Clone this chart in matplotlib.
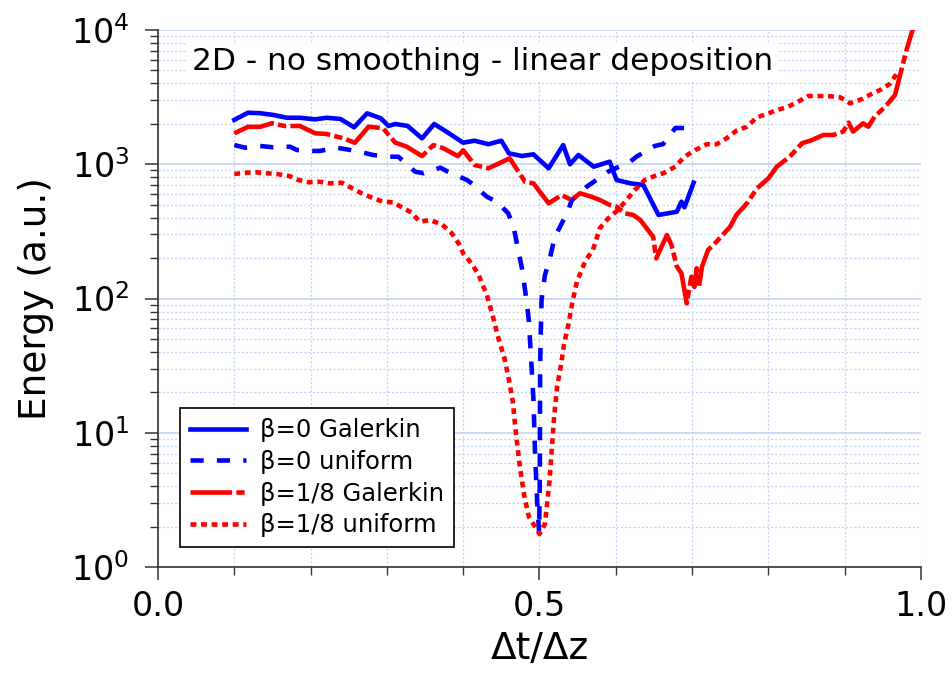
import numpy as np
import matplotlib
matplotlib.use("Agg")
import matplotlib.pyplot as plt
from matplotlib.ticker import LogLocator, MultipleLocator, NullFormatter

plt.rcParams['font.family'] = ['DejaVu Sans']
plt.rcParams['lines.scale_dashes'] = False

# beta = 0, Galerkin
x_b0_gal = [0.100, 0.118, 0.134, 0.151, 0.169, 0.186, 0.206, 0.221, 0.239, 0.257,
            0.274, 0.292, 0.302, 0.311, 0.327, 0.346, 0.362, 0.380, 0.400, 0.415,
            0.433, 0.450, 0.460, 0.477, 0.492, 0.512, 0.531, 0.540, 0.551, 0.571,
            0.592, 0.601, 0.619, 0.636, 0.656, 0.680, 0.686, 0.690, 0.702]
e_b0_gal = [2140, 2420, 2400, 2330, 2220, 2220, 2160, 2220, 2175, 1885,
            2395, 2200, 1930, 1995, 1930, 1560, 1995, 1720, 1447, 1497,
            1410, 1497, 1205, 1152, 1186, 933, 1390, 1000, 1172, 959,
            1045, 764, 721, 700, 419, 443, 526, 478, 729]

# beta = 0, uniform
x_b0_uni = [0.100, 0.114, 0.134, 0.151, 0.173, 0.182, 0.204, 0.212, 0.234, 0.252,
            0.269, 0.282, 0.304, 0.315, 0.337, 0.348, 0.370, 0.380, 0.405, 0.411,
            0.431, 0.444, 0.459, 0.466, 0.472, 0.477, 0.482, 0.486, 0.488, 0.490,
            0.492, 0.493, 0.494, 0.4955, 0.497, 0.4995, 0.5003, 0.5006, 0.5008, 0.5012,
            0.5027, 0.507, 0.514, 0.520, 0.527, 0.538, 0.542, 0.562, 0.565, 0.584,
            0.590, 0.619, 0.627, 0.651, 0.662, 0.678, 0.690]
e_b0_uni = [1391, 1328, 1368, 1337, 1352, 1277, 1256, 1256, 1328, 1277,
            1220, 1172, 1138, 1138, 880, 857, 943, 880, 763, 721,
            573, 526, 431, 343, 230, 168, 106, 69, 44, 28.5,
            18, 11.8, 7.4, 4.7, 3.0, 1.8, 4.0, 11.7, 26, 42,
            98, 148, 204, 288, 343, 457, 537, 681, 700, 832,
            881, 1047, 1138, 1368, 1413, 1862, 1862]

# beta = 1/8, Galerkin
x_b8_gal = [0.100, 0.118, 0.134, 0.149, 0.166, 0.186, 0.206, 0.221, 0.243, 0.258,
            0.276, 0.295, 0.311, 0.326, 0.346, 0.361, 0.374, 0.393, 0.400, 0.415,
            0.433, 0.461, 0.481, 0.492, 0.512, 0.529, 0.542, 0.553, 0.568, 0.579,
            0.592, 0.601, 0.612, 0.623, 0.632, 0.649, 0.653, 0.658, 0.667, 0.673,
            0.680, 0.686, 0.693, 0.699, 0.703, 0.706, 0.709, 0.713, 0.721, 0.732,
            0.750, 0.758, 0.772, 0.785, 0.800, 0.811, 0.828, 0.844, 0.857, 0.872,
            0.885, 0.898, 0.905, 0.911, 0.924, 0.931, 0.939, 0.951, 0.955, 0.966,
            0.972, 0.981, 0.990]
e_b8_gal = [1700, 1900, 1900, 2020, 1928, 1928, 1700, 1680, 1560, 1445,
            1905, 1853, 1449, 1352, 1150, 1390, 1315, 1150, 1270, 987,
            933, 1107, 741, 721, 512, 590, 542, 608, 573, 542,
            498, 483, 431, 419, 385, 288, 199, 230, 297, 250,
            173, 154, 92, 145, 122, 168, 122, 173, 230, 265,
            343, 419, 512, 661, 785, 960, 1138, 1432, 1514, 1652,
            1652, 1750, 2042, 1750, 2018, 1905, 2259, 2612, 2762, 3281,
            4487, 7096, 10500]

# beta = 1/8, uniform
x_b8_uni = [0.100, 0.116, 0.129, 0.142, 0.156, 0.172, 0.184, 0.197, 0.212, 0.225,
            0.241, 0.267, 0.282, 0.295, 0.308, 0.332, 0.343, 0.356, 0.372, 0.385,
            0.394, 0.400, 0.411, 0.420, 0.431, 0.439, 0.446, 0.454, 0.460, 0.465,
            0.469, 0.474, 0.480, 0.486, 0.494, 0.500, 0.507, 0.510, 0.513, 0.516,
            0.519, 0.523, 0.528, 0.532, 0.538, 0.543, 0.549, 0.560, 0.570, 0.579,
            0.590, 0.603, 0.614, 0.625, 0.638, 0.651, 0.664, 0.678, 0.690, 0.704,
            0.719, 0.732, 0.745, 0.758, 0.772, 0.785, 0.798, 0.811, 0.824, 0.839,
            0.852, 0.865, 0.878, 0.894, 0.907, 0.922, 0.935, 0.948, 0.959, 0.968,
            0.974]
e_b8_uni = [846, 865, 871, 857, 846, 817, 764, 734, 741, 721,
            728, 607, 558, 526, 520, 437, 373, 384, 357, 306,
            257, 217, 182, 151, 106, 73, 51, 36, 24.7, 17,
            10, 5.75, 3.39, 2.37, 2.0, 1.76, 2.09, 2.98, 4.3, 7.4,
            12.8, 22, 31.4, 45, 64.6, 93, 133, 190, 230, 333,
            395, 457, 542, 643, 764, 817, 865, 960, 1138, 1276,
            1409, 1409, 1560, 1778, 1905, 2239, 2366, 2535, 2655, 2924,
            3221, 3221, 3221, 3155, 2844, 3048, 3334, 3614, 3963, 4700,
            4624]

labels = ['β=0 Galerkin', 'β=0 uniform', 'β=1/8 Galerkin', 'β=1/8 uniform']

blue = '#0000ff'
red = '#ff0000'
grid_col = '#c4d2f7'
lw = 3.3

fig = plt.figure(figsize=(9.53, 6.75), dpi=100)
ax = fig.add_axes([158 / 953, 1 - 567 / 675, 763 / 953, 537 / 675])

ax.plot(x_b0_gal, e_b0_gal, color=blue, lw=lw, ls='-', label=labels[0])
ax.plot(x_b0_uni, e_b0_uni, color=blue, lw=lw, ls=(0, (9.5, 9.5)),
        dash_capstyle='butt', label=labels[1])
ax.plot(x_b8_gal, e_b8_gal, color=red, lw=lw, ls=(0, (30, 3, 6, 3)),
        dash_capstyle='butt', label=labels[2])
ax.plot(x_b8_uni, e_b8_uni, color=red, lw=lw, ls=(0, (4.2, 3.4)),
        dash_capstyle='butt', label=labels[3])

ax.set_yscale('log')
ax.set_xlim(0, 1)
ax.set_ylim(1, 1e4)

ax.xaxis.set_major_locator(MultipleLocator(0.5))
ax.xaxis.set_minor_locator(MultipleLocator(0.1))
ax.xaxis.set_major_formatter(plt.FormatStrFormatter('%.1f'))
ax.yaxis.set_major_locator(LogLocator(base=10, numticks=10))
ax.yaxis.set_minor_locator(LogLocator(base=10, subs=np.arange(2, 10), numticks=20))
ax.yaxis.set_minor_formatter(NullFormatter())

ax.grid(which='major', axis='y', ls='-', color=grid_col, lw=1.2)
ax.grid(which='minor', axis='y', ls=(0, (1.5, 1.5)), color=grid_col, lw=0.9)
ax.grid(which='both', axis='x', ls=(0, (1.5, 1.5)), color=grid_col, lw=0.9)
ax.set_axisbelow(True)

for side in ('top', 'right'):
    ax.spines[side].set_visible(False)
for side in ('left', 'bottom'):
    ax.spines[side].set_color('#333333')
    ax.spines[side].set_linewidth(1.2)

ax.tick_params(which='major', direction='out', length=9.5, width=1.1,
               colors='#333333', labelcolor='black', labelsize=24)
ax.tick_params(which='minor', direction='out', length=6, width=1.0, colors='#333333')
ax.tick_params(axis='x', which='major', pad=7)
ax.tick_params(axis='y', which='major', pad=11)

ax.set_xlabel('Δt/Δz', fontsize=27, labelpad=6)
ax.set_ylabel('Energy (a.u.)', fontsize=27, labelpad=12)

ax.text(0.045, 0.968, '2D - no smoothing - linear deposition', transform=ax.transAxes,
        fontsize=22.5, va='top', ha='left', zorder=5,
        bbox=dict(facecolor='white', edgecolor='none', pad=3))

leg = ax.legend(loc='lower left', bbox_to_anchor=(0.029, 0.037), borderaxespad=0,
                fontsize=17.5, frameon=True, fancybox=False, framealpha=1,
                edgecolor='black', handlelength=2.3, handletextpad=0.6,
                labelspacing=0.32, borderpad=0.4)
leg.get_frame().set_linewidth(1.2)

fig.savefig('out.png', dpi=100)
